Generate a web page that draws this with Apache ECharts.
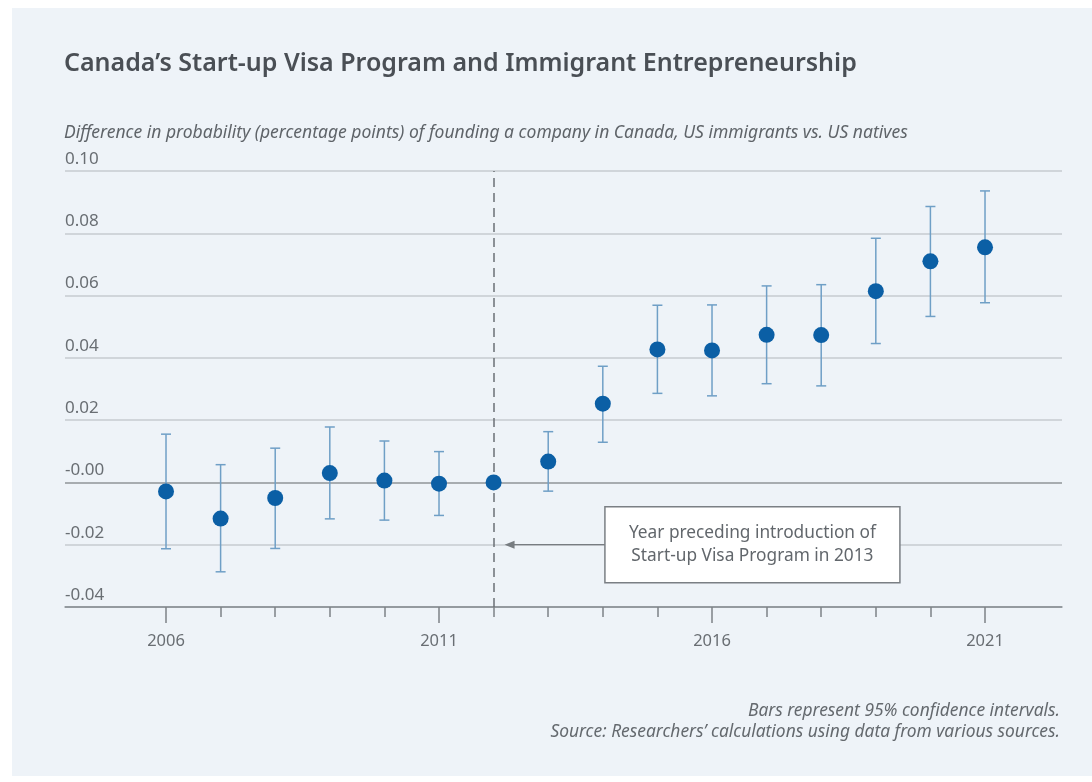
<!DOCTYPE html>
<html><head><meta charset="utf-8">
<script src="https://cdn.jsdelivr.net/npm/echarts@6/dist/echarts.min.js"></script>
<style>html,body{margin:0;padding:0;background:#fff}#c{width:1092px;height:782px}</style>
</head><body><div id="c"></div>
<script>
// ---- data ----
const years = [2006,2007,2008,2009,2010,2011,2012,2013,2014,2015,2016,2017,2018,2019,2020,2021];
const estimates = [-0.0029,-0.0116,-0.0050,0.0030,0.0006,-0.0004,0.0000,0.0067,0.0253,0.0427,0.0424,0.0474,0.0473,0.0614,0.0710,0.0755];
const ciLow  = [-0.0213,-0.0287,-0.0212,-0.0117,-0.0121,-0.0106,null,-0.0028,0.0129,0.0286,0.0278,0.0317,0.0310,0.0446,0.0533,0.0577];
const ciHigh = [0.0155,0.0057,0.0110,0.0178,0.0133,0.0099,null,0.0163,0.0373,0.0569,0.0570,0.0631,0.0635,0.0784,0.0886,0.0936];
const yTickLabels = ['-0.04','-0.02','-0.00','0.02','0.04','0.06','0.08','0.10'];
const xLabelYears = [2006,2011,2016,2021];
const referenceYear = 2012;
const annotationLines = ['Year preceding introduction of','Start-up Visa Program in 2013'];
const titleText = 'Canada\u2019s Start-up Visa Program and Immigrant Entrepreneurship';
const subtitleText = 'Difference in probability (percentage points) of founding a company in Canada, US immigrants vs. US natives';
const footnotes = ['Bars represent 95% confidence intervals.','Source: Researchers\u2019 calculations using data from various sources.'];

// ---- chart ----
const FONT = '"Noto Sans", Lato, sans-serif';
const yMin = -0.04, yMax = 0.10, yStep = 0.02;
const chart = echarts.init(document.getElementById('c'));

const errData = years.map((y,i)=> ciLow[i]==null ? null : [y, ciLow[i], ciHigh[i]]).filter(Boolean);
const pointData = years.map((y,i)=> [y, estimates[i]]);

const gridLight = '#c6cbd0', gridDark = '#8f9499';
const splitColors = yTickLabels.map(l => (l === '-0.00' || l === '-0.04') ? gridDark : gridLight);

const option = {
  animation: false,
  backgroundColor: '#ffffff',
  graphic: [
    {type:'rect', z:-10, silent:true, shape:{x:12, y:8, width:1080, height:768}, style:{fill:'#eef3f8'}},
    {type:'text', silent:true, style:{text: footnotes[0], x:1060, y:711, align:'right', verticalAlign:'middle',
       font:'italic 17.4px ' + FONT, fill:'#64696e'}},
    {type:'text', silent:true, style:{text: footnotes[1], x:1060, y:732, align:'right', verticalAlign:'middle',
       font:'italic 17.4px ' + FONT, fill:'#64696e'}}
  ],
  title: [
    {text: titleText, left: 64, top: 49, padding: 0,
     textStyle:{fontFamily:FONT, fontSize:25, fontWeight:600, color:'#4a4f55', lineHeight:30}},
    {text: subtitleText, left: 64, top: 123, padding: 0,
     textStyle:{fontFamily:FONT, fontSize:17.5, fontStyle:'italic', fontWeight:'normal', color:'#5f6469', lineHeight:20}}
  ],
  grid: {left: 65, right: 30, top: 171, bottom: 175, containLabel: false},
  xAxis: [
    {type:'value', min:2004.15, max:2022.41, position:'bottom',
     axisLine:{show:true, onZero:false, lineStyle:{color:gridDark, width:1.5}},
     axisTick:{show:true, customValues: years, length:10, lineStyle:{color:'#7d8287', width:1.5}},
     axisLabel:{show:true, customValues: xLabelYears, margin:26, fontFamily:FONT, fontSize:16.5, color:'#696e73',
                formatter: v => String(v)},
     splitLine:{show:false}},
    {type:'value', min:2004.15, max:2022.41, position:'bottom',
     axisLine:{show:false, onZero:false},
     axisTick:{show:true, customValues: xLabelYears, length:16, lineStyle:{color:'#7d8287', width:1.5}},
     axisLabel:{show:false}, splitLine:{show:false}}
  ],
  yAxis: {type:'value', min:yMin, max:yMax, interval:yStep,
    axisLine:{show:false}, axisTick:{show:false},
    axisLabel:{inside:true, margin:0, fontFamily:FONT, fontSize:17, color:'#696e73',
      verticalAlign:'bottom', lineHeight:18, padding:[0,0,3,0],
      formatter: v => yTickLabels[Math.round((v - yMin)/yStep)]},
    splitLine:{show:true, lineStyle:{color:splitColors, width:1.5}}
  },
  series: [
    {type:'custom', name:'ci', xAxisIndex:0, z:2, silent:true,
     encode:{x:0, y:[1,2]},
     data: errData,
     renderItem(params, api){
       const x = api.value(0), lo = api.value(1), hi = api.value(2);
       const a = api.coord([x, lo]), b = api.coord([x, hi]);
       const w = 5, st = {stroke:'#6f9fc6', lineWidth:1.5};
       return {type:'group', children:[
         {type:'line', shape:{x1:a[0], y1:a[1], x2:b[0], y2:b[1]}, style:st},
         {type:'line', shape:{x1:a[0]-w, y1:a[1], x2:a[0]+w, y2:a[1]}, style:st},
         {type:'line', shape:{x1:b[0]-w, y1:b[1], x2:b[0]+w, y2:b[1]}, style:st}
       ]};
     }},
    {type:'scatter', name:'estimate', xAxisIndex:0, z:5, symbolSize:16,
     itemStyle:{color:'#0b5fa5', opacity:1},
     data: pointData,
     markLine:{silent:true, symbol:'none', label:{show:false}, z:1,
       lineStyle:{type:[9,6], color:'#6b7075', width:1.5},
       data:[{xAxis: referenceYear}]}},
    {type:'custom', name:'annotation', xAxisIndex:0, z:6, silent:true,
     data: [[2016.74, -0.02, referenceYear + 0.2]],
     renderItem(params, api){
       const c = api.coord([api.value(0), api.value(1)]);
       const tip = api.coord([api.value(2), api.value(1)]);
       const bw = 295, bh = 76;
       const left = c[0] - bw/2;
       return {type:'group', children:[
         {type:'line', shape:{x1:left, y1:c[1], x2:tip[0]+6, y2:c[1]}, style:{stroke:'#777c81', lineWidth:1.2}},
         {type:'polygon', shape:{points:[[tip[0], c[1]], [tip[0]+10, c[1]-4], [tip[0]+10, c[1]+4]]}, style:{fill:'#777c81'}},
         {type:'rect', shape:{x:left, y:c[1]-bh/2, width:bw, height:bh}, style:{fill:'#ffffff', stroke:'#7a7f84', lineWidth:1.5}},
         {type:'text', style:{text: annotationLines[0], x:c[0], y:c[1]-12, align:'center', verticalAlign:'middle',
            font:'17.3px ' + FONT, fill:'#62676c'}},
         {type:'text', style:{text: annotationLines[1], x:c[0], y:c[1]+11, align:'center', verticalAlign:'middle',
            font:'17.3px ' + FONT, fill:'#62676c'}}
       ]};
     }}
  ]
};
chart.setOption(option);
</script></body></html>
